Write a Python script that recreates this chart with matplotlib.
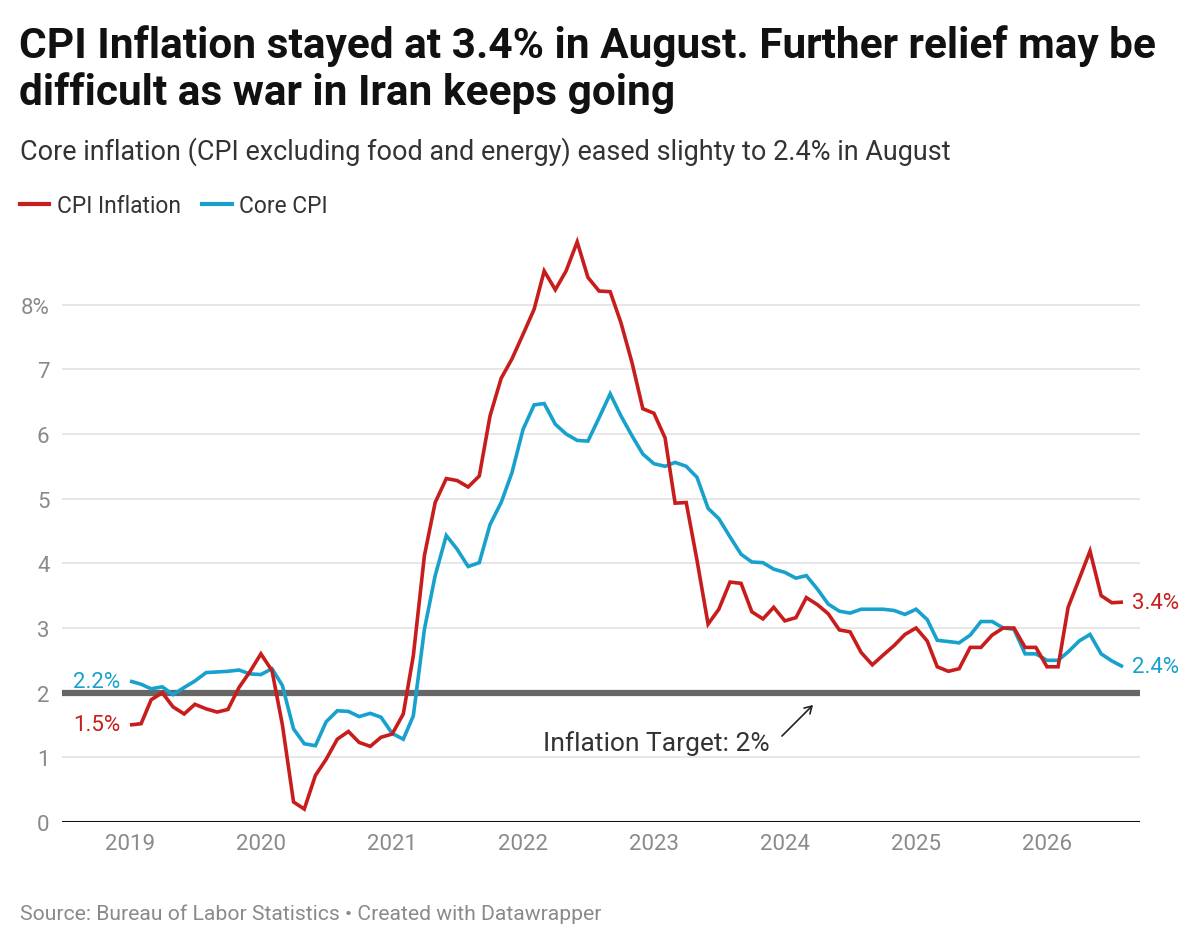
import matplotlib
matplotlib.use("Agg")
import matplotlib.pyplot as plt
import matplotlib.dates as mdates
from matplotlib.lines import Line2D
import pandas as pd

plt.rcParams['font.family'] = ['Roboto', 'DejaVu Sans']

# ---------------- data ----------------
start_month = "2019-01-01"
cpi = [
    1.5, 1.52, 1.89, 2.0, 1.78, 1.67, 1.82, 1.75, 1.70, 1.74, 2.08, 2.32,   # 2019
    2.6, 2.34, 1.5, 0.31, 0.2, 0.72, 0.97, 1.28, 1.40, 1.23, 1.17, 1.31,    # 2020
    1.36, 1.67, 2.57, 4.12, 4.94, 5.31, 5.28, 5.18, 5.35, 6.28, 6.86, 7.16, # 2021
    7.54, 7.93, 8.52, 8.23, 8.52, 8.97, 8.42, 8.21, 8.2, 7.72, 7.1, 6.39,   # 2022
    6.32, 5.94, 4.93, 4.94, 4.05, 3.06, 3.29, 3.71, 3.69, 3.25, 3.14, 3.32, # 2023
    3.11, 3.16, 3.47, 3.36, 3.22, 2.97, 2.94, 2.62, 2.43, 2.58, 2.73, 2.9,  # 2024
    3.0, 2.8, 2.4, 2.33, 2.37, 2.7, 2.7, 2.89, 3.0, 3.0, 2.7, 2.7,          # 2025
    2.4, 2.4, 3.32, 3.76, 4.19, 3.5, 3.39, 3.4,                             # 2026
]
core = [
    2.18, 2.13, 2.06, 2.09, 1.97, 2.08, 2.18, 2.31, 2.32, 2.33, 2.35, 2.29, # 2019
    2.28, 2.37, 2.11, 1.44, 1.21, 1.18, 1.55, 1.72, 1.71, 1.63, 1.68, 1.62, # 2020
    1.37, 1.28, 1.64, 2.98, 3.81, 4.43, 4.22, 3.95, 4.01, 4.6, 4.94, 5.4,   # 2021
    6.07, 6.45, 6.47, 6.15, 6.0, 5.9, 5.89, 6.25, 6.62, 6.28, 5.97, 5.69,   # 2022
    5.54, 5.5, 5.56, 5.5, 5.33, 4.85, 4.69, 4.41, 4.14, 4.02, 4.01, 3.91,   # 2023
    3.86, 3.77, 3.81, 3.6, 3.37, 3.26, 3.23, 3.29, 3.29, 3.29, 3.27, 3.21,  # 2024
    3.29, 3.13, 2.81, 2.79, 2.77, 2.89, 3.1, 3.1, 3.0, 2.98, 2.6, 2.6,      # 2025
    2.5, 2.5, 2.63, 2.8, 2.9, 2.6, 2.49, 2.4,                               # 2026
]
series_names = ["CPI Inflation", "Core CPI"]
year_ticks = [2019, 2020, 2021, 2022, 2023, 2024, 2025, 2026]
y_ticks = [0, 1, 2, 3, 4, 5, 6, 7, 8]
y_tick_labels = ["0", "1", "2", "3", "4", "5", "6", "7", "8%"]
target = 2.0
target_label = "Inflation Target: 2%"

title_lines = ["CPI Inflation stayed at 3.4% in August. Further relief may be",
               "difficult as war in Iran keeps going"]
subtitle = "Core inflation (CPI excluding food and energy) eased slighty to 2.4% in August"
source = "Source: Bureau of Labor Statistics \u2022 Created with Datawrapper"

# ---------------- style ----------------
RED = "#c71e1d"
BLUE = "#18a1cd"
W, H = 1200, 945

dates = pd.date_range(start_month, periods=len(cpi), freq="MS")

fig = plt.figure(figsize=(W / 100, H / 100), dpi=100)
fig.patch.set_facecolor("white")

def fx(px):
    return px / W

def fy(py):
    return 1 - py / H

ax_left, ax_right, ax_top, ax_bottom = 62, 1140, 228, 823
ax = fig.add_axes([fx(ax_left), fy(ax_bottom), fx(ax_right - ax_left), (ax_bottom - ax_top) / H])

d0 = mdates.date2num(dates[0])
dN = mdates.date2num(dates[-1])
px_per_day = (1123 - 130) / (dN - d0)
ax.set_xlim(d0 - (130 - ax_left) / px_per_day, d0 + (ax_right - 130) / px_per_day)
ax.set_ylim(0, 9.2)

for s in ax.spines.values():
    s.set_visible(False)

ax.set_yticks(y_ticks)
ax.set_yticklabels(y_tick_labels)
ax.set_xticks([mdates.date2num(pd.Timestamp(f"{y}-01-01")) for y in year_ticks])
ax.set_xticklabels([str(y) for y in year_ticks])
ax.tick_params(axis="both", length=0, labelsize=16, labelcolor="#8a8a8a")
ax.tick_params(axis="y", pad=9)
ax.tick_params(axis="x", pad=8)

for v in y_ticks[1:]:
    ax.axhline(v, color="#e3e3e3", lw=1.2, zorder=0)
ax.axhline(0, color="#111111", lw=2.2, zorder=1)
ax.axhline(target, color="#666666", lw=4.5, zorder=1.5)

ax.plot(dates, cpi, color=RED, lw=2.6, zorder=3, solid_joinstyle="miter", solid_capstyle="butt")
ax.plot(dates, core, color=BLUE, lw=2.6, zorder=2.9, solid_joinstyle="miter", solid_capstyle="butt")

# end / start labels
lab_kw = dict(textcoords="offset points", va="center", fontsize=16)
ax.annotate(f"{cpi[-1]:.1f}%", xy=(dates[-1], cpi[-1]), xytext=(6.5, 0), ha="left", color=RED, **lab_kw)
ax.annotate(f"{core[-1]:.1f}%", xy=(dates[-1], core[-1]), xytext=(6.5, 0), ha="left", color=BLUE, **lab_kw)
ax.annotate(f"{cpi[0]:.1f}%", xy=(dates[0], cpi[0]), xytext=(-7, 0), ha="right", color=RED, **lab_kw)
ax.annotate(f"{core[0]:.1f}%", xy=(dates[0], core[0]), xytext=(-7, 0), ha="right", color=BLUE, **lab_kw)

# target annotation
fig.text(fx(543), fy(751), target_label, fontsize=19, color="#333333", ha="left", va="baseline")
ax.annotate("", xy=(815, H - 704), xycoords="figure pixels",
            xytext=(780, H - 739), textcoords="figure pixels",
            arrowprops=dict(arrowstyle="->,head_length=0.5,head_width=0.3", color="#222222", lw=1.2))

# titles
fig.text(fx(19), fy(58), title_lines[0], fontsize=30.5, fontweight="bold", color="#111111", ha="left", va="baseline")
fig.text(fx(19), fy(105), title_lines[1], fontsize=30.5, fontweight="bold", color="#111111", ha="left", va="baseline")
fig.text(fx(20), fy(160), subtitle, fontsize=19.45, color="#333333", ha="left", va="baseline")

# legend
fig.add_artist(Line2D([fx(20), fx(49)], [fy(205), fy(205)], color=RED, lw=3, transform=fig.transFigure))
fig.text(fx(57), fy(213), series_names[0], fontsize=16.4, color="#333333", ha="left", va="baseline")
fig.add_artist(Line2D([fx(202), fx(232)], [fy(205), fy(205)], color=BLUE, lw=3, transform=fig.transFigure))
fig.text(fx(239), fy(213), series_names[1], fontsize=16.4, color="#333333", ha="left", va="baseline")

# source
fig.text(fx(20), fy(920), source, fontsize=15.2, color="#8a8a8a", ha="left", va="baseline")

fig.savefig("out.png", dpi=100, facecolor="white")
